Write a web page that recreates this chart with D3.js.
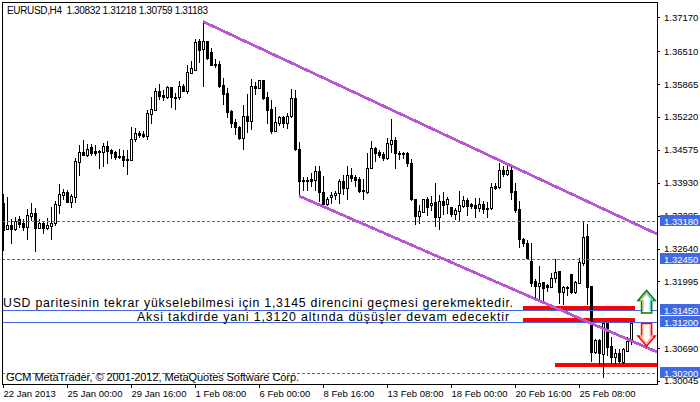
<!DOCTYPE html>
<html><head><meta charset="utf-8">
<script src="https://cdn.jsdelivr.net/npm/d3@7/dist/d3.min.js"></script>
<style>html,body{margin:0;padding:0;background:#fff;overflow:hidden}svg{display:block}text{fill:#000;font-family:"Liberation Sans",sans-serif}</style>
</head><body><svg id="c" width="700" height="402"></svg>
<script>
const opens=[1.3353,1.3302,1.3311,1.3302,1.3321,1.3315,1.3306,1.3327,1.3333,1.3304,
1.3315,1.3304,1.3308,1.3315,1.3349,1.3369,1.3374,1.3355,1.3365,1.3434,
1.3453,1.3447,1.3463,1.3455,1.3455,1.3453,1.3465,1.3457,1.3453,1.3445,
1.3445,1.3439,1.3437,1.3479,1.3491,1.3489,1.3485,1.3528,1.3536,1.3573,
1.3565,1.3562,1.3581,1.3562,1.3562,1.3583,1.3573,1.3609,1.3615,1.3670,
1.3656,1.3670,1.3650,1.3626,1.3626,1.3585,1.3569,1.3534,1.3512,1.3502,
1.3481,1.3524,1.3514,1.3583,1.3579,1.3595,1.3562,1.3538,1.3495,1.3510,
1.3522,1.3510,1.3524,1.3560,1.3459,1.3398,1.3398,1.3400,1.3398,1.3416,
1.3374,1.3351,1.3365,1.3369,1.3373,1.3396,1.3382,1.3408,1.3404,1.3400,
1.3378,1.3374,1.3422,1.3461,1.3453,1.3449,1.3441,1.3469,1.3477,1.3451,
1.3451,1.3451,1.3432,1.3361,1.3327,1.3335,1.3361,1.3349,1.3355,1.3325,
1.3357,1.3351,1.3345,1.3331,1.3337,1.3347,1.3359,1.3351,1.3349,1.3343,
1.3351,1.3343,1.3343,1.3386,1.3384,1.3418,1.3410,1.3418,1.3376,1.3341,
1.3282,1.3274,1.3240,1.3200,1.3190,1.3198,1.3192,1.3188,1.3206,1.3220,
1.3179,1.3188,1.3214,1.3179,1.3196,1.3236,1.3289,1.3190,1.3061,1.3084,
1.3057,1.3118,1.3072,1.3051,1.3059,1.3041,1.3064,1.30832];
const highs=[1.3371,1.3365,1.3321,1.3325,1.3327,1.3321,1.3341,1.3353,1.3343,1.3321,
1.3317,1.3323,1.3345,1.3357,1.3390,1.3380,1.3378,1.3371,1.3441,1.3467,
1.3477,1.3469,1.3469,1.3467,1.3457,1.3471,1.3475,1.3459,1.3455,1.3459,
1.3457,1.3457,1.3502,1.3500,1.3495,1.3495,1.3536,1.3562,1.3579,1.3587,
1.3575,1.3583,1.3581,1.3569,1.3593,1.3587,1.3623,1.3632,1.3674,1.3674,
1.3709,1.3670,1.3658,1.3636,1.3632,1.3599,1.3579,1.3536,1.3518,1.3504,
1.3546,1.3567,1.3597,1.3591,1.3595,1.3595,1.3571,1.3556,1.3542,1.3524,
1.3524,1.3530,1.3577,1.3575,1.3473,1.3404,1.3404,1.3412,1.3426,1.3426,
1.3406,1.3365,1.3374,1.3376,1.3400,1.3408,1.3426,1.3422,1.3408,1.3404,
1.3400,1.3451,1.3475,1.3463,1.3457,1.3453,1.3481,1.3518,1.3483,1.3455,
1.3453,1.3453,1.3439,1.3361,1.3349,1.3361,1.3365,1.3367,1.3392,1.3369,
1.3374,1.3365,1.3345,1.3343,1.3376,1.3367,1.3363,1.3353,1.3363,1.3363,
1.3357,1.3355,1.3392,1.3392,1.3432,1.3426,1.3428,1.3424,1.3392,1.3357,
1.3284,1.3280,1.3275,1.3204,1.3230,1.3198,1.3194,1.3216,1.3244,1.3220,
1.3190,1.3190,1.3214,1.3200,1.3246,1.3318,1.3312,1.3190,1.3086,1.3086,
1.3118,1.3118,1.3090,1.3066,1.3066,1.3068,1.3090,1.31218];
const lows=[1.3262,1.3302,1.3274,1.3300,1.3306,1.3300,1.3282,1.3319,1.3260,1.3304,
1.3294,1.3302,1.3282,1.3310,1.3333,1.3361,1.3355,1.3345,1.3355,1.3408,
1.3447,1.3445,1.3447,1.3447,1.3422,1.3426,1.3432,1.3441,1.3439,1.3441,
1.3426,1.3410,1.3437,1.3475,1.3483,1.3483,1.3479,1.3510,1.3536,1.3558,
1.3556,1.3560,1.3542,1.3538,1.3558,1.3573,1.3569,1.3609,1.3615,1.3630,
1.3583,1.3636,1.3623,1.3619,1.3581,1.3548,1.3522,1.3502,1.3489,1.3479,
1.3459,1.3493,1.3498,1.3567,1.3579,1.3558,1.3510,1.3491,1.3495,1.3506,
1.3502,1.3500,1.3522,1.3457,1.3367,1.3378,1.3378,1.3386,1.3378,1.3357,
1.3347,1.3349,1.3353,1.3361,1.3353,1.3371,1.3361,1.3396,1.3386,1.3374,
1.3361,1.3373,1.3422,1.3436,1.3443,1.3437,1.3439,1.3453,1.3422,1.3439,
1.3441,1.3426,1.3359,1.3313,1.3315,1.3335,1.3329,1.3339,1.3308,1.3302,
1.3331,1.3333,1.3327,1.3321,1.3317,1.3345,1.3329,1.3343,1.3325,1.3337,
1.3333,1.3325,1.3341,1.3380,1.3382,1.3406,1.3408,1.3361,1.3335,1.3266,
1.3268,1.3243,1.3190,1.3167,1.3165,1.3161,1.3181,1.3188,1.3198,1.3157,
1.3155,1.3173,1.3177,1.3177,1.3196,1.3232,1.3155,1.3043,1.3059,1.3037,
1.3013,1.3055,1.3039,1.3039,1.3039,1.3039,1.3064,1.30759];
const closes=[1.3300,1.3311,1.3302,1.3317,1.3313,1.3306,1.3329,1.3333,1.3304,1.3315,
1.3304,1.3310,1.3315,1.3351,1.3371,1.3374,1.3355,1.3367,1.3436,1.3453,
1.3447,1.3459,1.3451,1.3451,1.3453,1.3465,1.3455,1.3451,1.3443,1.3443,
1.3437,1.3437,1.3479,1.3491,1.3487,1.3485,1.3530,1.3538,1.3573,1.3563,
1.3562,1.3581,1.3562,1.3560,1.3583,1.3573,1.3611,1.3617,1.3668,1.3654,
1.3670,1.3638,1.3623,1.3624,1.3583,1.3567,1.3532,1.3510,1.3502,1.3481,
1.3524,1.3514,1.3583,1.3579,1.3595,1.3560,1.3536,1.3495,1.3512,1.3522,
1.3510,1.3524,1.3560,1.3459,1.3396,1.3396,1.3396,1.3396,1.3416,1.3374,
1.3351,1.3361,1.3369,1.3373,1.3396,1.3382,1.3408,1.3402,1.3398,1.3376,
1.3376,1.3422,1.3461,1.3451,1.3447,1.3441,1.3471,1.3477,1.3451,1.3449,
1.3449,1.3432,1.3361,1.3327,1.3337,1.3361,1.3345,1.3353,1.3325,1.3357,
1.3349,1.3361,1.3331,1.3339,1.3349,1.3359,1.3347,1.3347,1.3343,1.3351,
1.3341,1.3341,1.3384,1.3382,1.3418,1.3410,1.3418,1.3374,1.3339,1.3282,
1.3274,1.3245,1.3196,1.3190,1.3196,1.3187,1.3188,1.3206,1.3218,1.3179,
1.3188,1.3187,1.3179,1.3198,1.3238,1.3287,1.3188,1.3061,1.3084,1.3059,
1.3118,1.3070,1.3051,1.3059,1.3043,1.3066,1.3082,1.31183];

const priceTicks=[1.3717,1.3651,1.35865,1.3522,1.34575,1.3393,1.33285,1.3264,1.31995,1.3069,1.30045];
const timeTickIndex=[0,16,32,48,64,80,96,112,128,144];
const timeTickLabels=["22 Jan 2013","25 Jan 00:00","29 Jan 16:00","1 Feb 08:00","6 Feb 00:00","8 Feb 16:00","13 Feb 08:00","18 Feb 00:00","20 Feb 16:00","25 Feb 08:00"];
const dashedLevels=[1.3318,1.3245,1.302];
const solidLevels=[1.3145,1.312];
const levelTags=[1.3318,1.3245,1.3145,1.312,1.302];
const channelUpperIndex=[50,163.5], channelUpperPrice=[1.3709,1.32924];
const channelLowerIndex=[74,163.5], channelLowerPrice=[1.3367,1.30611];
const redBarPrice=[1.31464,1.31229,1.30356];
const redBarFrom=[130,130,138];
const redBarTo=[158,158,163.5];
const redBarWidth=[5,5,4];
const titleText="EURUSD,H4  1.30832 1.31218 1.30759 1.31183";
const note1="USD paritesinin tekrar yükselebilmesi için 1,3145 direncini geçmesi gerekmektedir.";
const note2="Aksi takdirde yani 1,3120 altında düşüşler devam edecektir";
const copyright="GCM MetaTrader, © 2001-2012, MetaQuotes Software Corp.";

const FL=2,FR=657,FT=2,FB=384;
const x=d3.scaleLinear().domain([0,157]).range([3,631]);
const y=d3.scaleLinear().domain([1.3717,1.30045]).range([17.48,380.86]);
const ry=p=>Math.round(y(p)), cy=p=>Math.ceil(y(p));
const svg=d3.select("#c");
svg.append("defs").append("clipPath").attr("id","plot").append("rect").attr("x",FL).attr("y",FT).attr("width",FR-FL).attr("height",FB-FT);
const plot=svg.append("g").attr("clip-path","url(#plot)").attr("shape-rendering","crispEdges");

plot.selectAll(".red").data(redBarPrice).join("rect").attr("fill","#ff0000")
 .attr("x",(d,i)=>x(redBarFrom[i])).attr("width",(d,i)=>x(redBarTo[i])-x(redBarFrom[i]))
 .attr("y",(d,i)=>Math.round(y(d)-redBarWidth[i]/2)).attr("height",(d,i)=>redBarWidth[i]);

const idx=d3.range(opens.length);
plot.append("g").selectAll("rect").data(idx).join("rect").attr("fill","#000")
 .attr("x",i=>x(i)).attr("width",1).attr("y",i=>ry(highs[i])).attr("height",i=>ry(lows[i])-ry(highs[i])+1);
plot.append("g").selectAll("rect").data(idx).join("rect")
 .attr("fill",i=>closes[i]>=opens[i]?"#fff":"#000").attr("stroke","#000").attr("stroke-width",1)
 .attr("x",i=>x(i)-0.5).attr("width",2)
 .attr("y",i=>ry(Math.max(opens[i],closes[i]))+0.5)
 .attr("height",i=>ry(Math.min(opens[i],closes[i]))-ry(Math.max(opens[i],closes[i])));

plot.selectAll(".dash").data(dashedLevels).join("line").attr("stroke","#4169e1").attr("stroke-dasharray","3,2")
 .attr("x1",FL).attr("x2",FR).attr("y1",d=>cy(d)+.5).attr("y2",d=>cy(d)+.5);
plot.selectAll(".solid").data(solidLevels).join("line").attr("stroke","#4169e1")
 .attr("x1",FL).attr("x2",FR).attr("y1",d=>cy(d)+.5).attr("y2",d=>cy(d)+.5);

[[channelUpperIndex,channelUpperPrice],[channelLowerIndex,channelLowerPrice]].forEach(([a,b])=>{
 plot.append("path").attr("fill","none").attr("stroke","#ba55d3").attr("stroke-width",2.8)
  .attr("d",d3.line().x(d=>x(d[0])).y(d=>y(d[1]))([[a[0],b[0]],[a[1],b[1]]]));
});

// frame
svg.append("rect").attr("x",FL+.5).attr("y",FT+.5).attr("width",FR-FL).attr("height",FB-FT)
 .attr("fill","none").attr("stroke","#000").attr("shape-rendering","crispEdges");

// arrows, anchored to their price level
function arrow(cx,cyy,dir,outer,c1,c2,fill){
 const pts=[[0,-11.5*dir],[8.5,-1.5*dir],[5,-1.5*dir],[5,11*dir],[-5,11*dir],[-5,-1.5*dir],[-8.5,-1.5*dir]];
 const inner=pts.map(p=>[p[0]*.72,p[1]*.8]);
 const g=svg.append("g").attr("transform",`translate(${cx},${cyy})`);
 g.append("polygon").attr("points",pts.join(" ")).attr("fill",fill).attr("stroke",outer).attr("stroke-width",1.6);
 g.append("polyline").attr("points",inner.slice(0,4).join(" ")).attr("fill","none").attr("stroke",c1).attr("stroke-width",1.2);
 g.append("polyline").attr("points",[inner[0]].concat(inner.slice(4).reverse()).join(" ")).attr("fill","none").attr("stroke",c2).attr("stroke-width",1.2);
}
arrow(x(160.9),y(1.31591),1,"#008000","#40c8e0","#b8b860","#fff");
arrow(x(160.9),y(1.30954),-1,"#ff0000","#ff9090","#ffb070","#fff");

// axes
const ya=d3.axisRight(y).tickValues(priceTicks).tickSize(3).tickPadding(4).tickFormat(d3.format(".5f"));
const yg=svg.append("g").attr("transform",`translate(${FR},0)`).call(ya);
yg.select(".domain").remove();
yg.selectAll("line").attr("shape-rendering","crispEdges");
yg.selectAll("text").attr("font-size",9.5).style("font-family",'"Liberation Sans",sans-serif');
const xa=d3.axisBottom(x).tickValues(timeTickIndex).tickSize(4).tickPadding(2).tickFormat((d,i)=>timeTickLabels[i]);
const xg=svg.append("g").attr("transform",`translate(0,${FB})`).call(xa);
xg.select(".domain").remove();
xg.selectAll("line").attr("shape-rendering","crispEdges");
xg.selectAll("text").attr("text-anchor","start").attr("font-size",9.5).style("font-family",'"Liberation Sans",sans-serif');

// level tags
const tags=svg.append("g").selectAll("g").data(levelTags).join("g").attr("transform",d=>`translate(660,${cy(d)})`);
tags.append("rect").attr("x",0).attr("y",-6).attr("width",40).attr("height",11).attr("fill","#4169e1").attr("shape-rendering","crispEdges");
tags.append("text").attr("x",4).attr("y",3.5).attr("font-size",9.5).style("fill","#fff").text(d=>d3.format(".5f")(d));

// texts
const t=(s,xp,yp,size,len)=>svg.append("text").attr("x",xp).attr("y",yp).attr("font-size",size).attr("textLength",len).attr("lengthAdjust","spacing").attr("xml:space","preserve").text(s);
t(titleText,7,14,10,201);
t(note1,3,307,12.3,510);
t(note2,137,321,12.3,372);
t(copyright,6,381,11,293);
</script></body></html>
